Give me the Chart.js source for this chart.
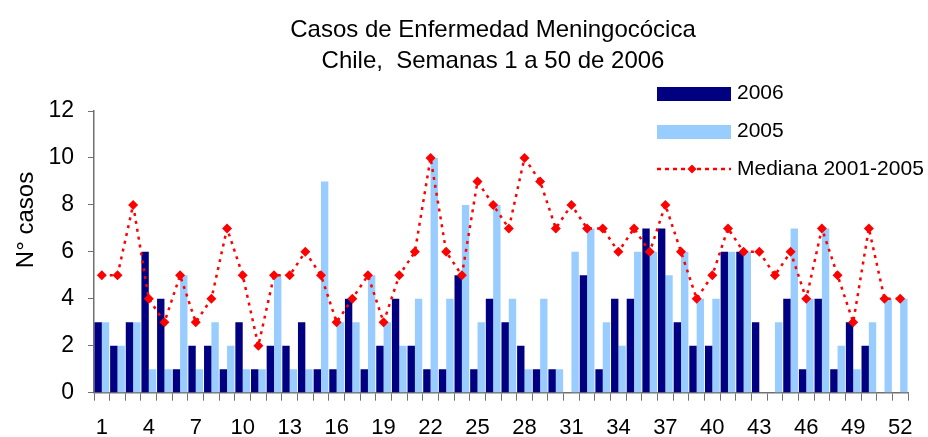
<!DOCTYPE html>
<html>
<head>
<meta charset="utf-8">
<script src="https://cdn.jsdelivr.net/npm/chart.js@4.4.0/dist/chart.umd.min.js"></script>
<style>
  html, body { margin: 0; padding: 0; background: #fff; }
  #wrap { width: 928px; height: 437px; }
</style>
</head>
<body>
<div id="wrap"><canvas id="chartMeningo"></canvas></div>
<script>
// semanas epidemiologicas
const semanas = ['1','2','3','4','5','6','7','8','9','10','11','12','13','14','15','16','17','18','19','20',
  '21','22','23','24','25','26','27','28','29','30','31','32','33','34','35','36','37','38','39','40',
  '41','42','43','44','45','46','47','48','49','50','51','52'];

// casos por semana
const casos2006 = [3,2,3,6,4,1,2,2,1,3, 1,2,2,3,1,1,4,1,2,4, 2,1,1,5,1,4,3,2,1,1,
  0,5,1,4,4,7,7,3,2,2, 6,6,3,0,4,1,4,1,3,2, null,null];
const casos2005 = [3,2,3,1,1,5,1,3,2,1, 1,5,1,1,9,3,3,5,3,2, 4,10,4,8,3,8,4,1,4,1,
  6,7,3,2,6,6,5,6,4,4, 6,6,0,3,7,4,7,2,1,3, 4,4];
const mediana = [5,5,8,4,3,5,3,4,7,5, 2,5,5,6,5,3,4,5,3,5, 6,10,6,5,9,8,7,10,9,7,
  8,7,7,6,7,6,8,6,4,5, 7,6,6,5,6,4,7,5,3,7, 4,4];

const xTickLabels = ['1','4','7','10','13','16','19','22','25','28','31','34','37','40','43','46','49','52'];
const yTickLabels = [0, 2, 4, 6, 8, 10, 12];

const FONT = '"Liberation Sans", Arial, sans-serif';
const AXIS_GREY = '#707070';

Chart.defaults.font.family = FONT;
Chart.defaults.color = '#000';

// titulo, eje y y leyenda dibujados a mano para ubicarlos como el original
const textosPlugin = {
  id: 'textos',
  afterDraw(chart) {
    const ctx = chart.ctx;
    ctx.save();
    ctx.fillStyle = '#000';

    // titulo
    ctx.font = '24px ' + FONT;
    ctx.textAlign = 'center';
    ctx.textBaseline = 'alphabetic';
    ctx.fillText('Casos de Enfermedad Meningocócica', 493, 37);
    ctx.fillText('Chile,  Semanas 1 a 50 de 2006', 493, 68);

    // titulo eje y
    ctx.save();
    ctx.translate(32.5, 220);
    ctx.rotate(-Math.PI / 2);
    ctx.font = '24px ' + FONT;
    ctx.fillText('N° casos', 0, 0);
    ctx.restore();

    // leyenda
    const ds = chart.data.datasets;
    ctx.font = '21px ' + FONT;
    ctx.textAlign = 'left';
    ctx.fillStyle = ds[0].backgroundColor;
    ctx.fillRect(657, 87, 74, 14);
    ctx.fillStyle = ds[1].backgroundColor;
    ctx.fillRect(657, 125, 74, 14);

    ctx.strokeStyle = ds[2].borderColor;
    ctx.lineWidth = 2.5;
    ctx.setLineDash([4, 4]);
    ctx.beginPath();
    ctx.moveTo(657, 169);
    ctx.lineTo(731, 169);
    ctx.stroke();
    ctx.setLineDash([]);
    ctx.fillStyle = ds[2].pointBackgroundColor;
    ctx.beginPath();
    ctx.moveTo(692, 164.5);
    ctx.lineTo(696.5, 169);
    ctx.lineTo(692, 173.5);
    ctx.lineTo(687.5, 169);
    ctx.closePath();
    ctx.fill();

    ctx.fillStyle = '#000';
    ctx.fillText(ds[0].label, 737, 99);
    ctx.fillText(ds[1].label, 737, 137);
    ctx.fillText(ds[2].label, 737, 174.5);
    ctx.restore();
  }
};

const ctx = document.getElementById('chartMeningo').getContext('2d');
const chart = new Chart(ctx, {
  type: 'bar',
  data: {
    labels: semanas,
    datasets: [
      {
        label: '2006',
        data: casos2006,
        backgroundColor: '#000080',
        borderWidth: 0,
        order: 2,
      },
      {
        label: '2005',
        data: casos2005,
        backgroundColor: '#99CCFF',
        borderWidth: 0,
        order: 3,
      },
      {
        type: 'line',
        label: 'Mediana 2001-2005',
        data: mediana,
        borderColor: '#FF0000',
        borderWidth: 2.5,
        borderDash: [3, 5],
        pointStyle: 'rectRot',
        pointRadius: 5,
        pointBackgroundColor: '#FF0000',
        pointBorderColor: '#FF0000',
        pointBorderWidth: 0,
        tension: 0,
        fill: false,
        order: 0,
      },
    ],
  },
  options: {
    responsive: true,
    maintainAspectRatio: false,
    animation: false,
    layout: {
      padding: { top: 111, right: 20, bottom: 0, left: 0 },
    },
    datasets: {
      bar: {
        categoryPercentage: 0.94,
        barPercentage: 1.0,
      },
    },
    plugins: {
      legend: { display: false },
      title: { display: false },
      tooltip: { enabled: false },
    },
    scales: {
      x: {
        type: 'category',
        offset: true,
        grid: {
          offset: true,
          drawOnChartArea: false,
          drawTicks: true,
          tickLength: 8,
          color: AXIS_GREY,
        },
        border: { color: AXIS_GREY, width: 1.5 },
        ticks: {
          autoSkip: false,
          maxRotation: 0,
          padding: 14,
          font: { size: 22 },
          color: '#000',
          callback: function (value, index) {
            const lab = this.getLabelForValue(value);
            return xTickLabels.includes(lab) ? lab : '';
          },
        },
        afterFit: (scale) => { scale.height = 44.3; },
      },
      y: {
        type: 'linear',
        min: 0,
        max: 12,
        grid: {
          drawOnChartArea: false,
          drawTicks: true,
          tickLength: 6,
          color: AXIS_GREY,
        },
        border: { color: AXIS_GREY, width: 1.5 },
        ticks: {
          padding: 14,
          font: { size: 23 },
          color: '#000',
        },
        afterBuildTicks: (scale) => {
          scale.ticks = yTickLabels.map((v) => ({ value: v }));
        },
        afterFit: (scale) => { scale.width = 94; },
      },
    },
  },
  plugins: [textosPlugin],
});
</script>
</body>
</html>
